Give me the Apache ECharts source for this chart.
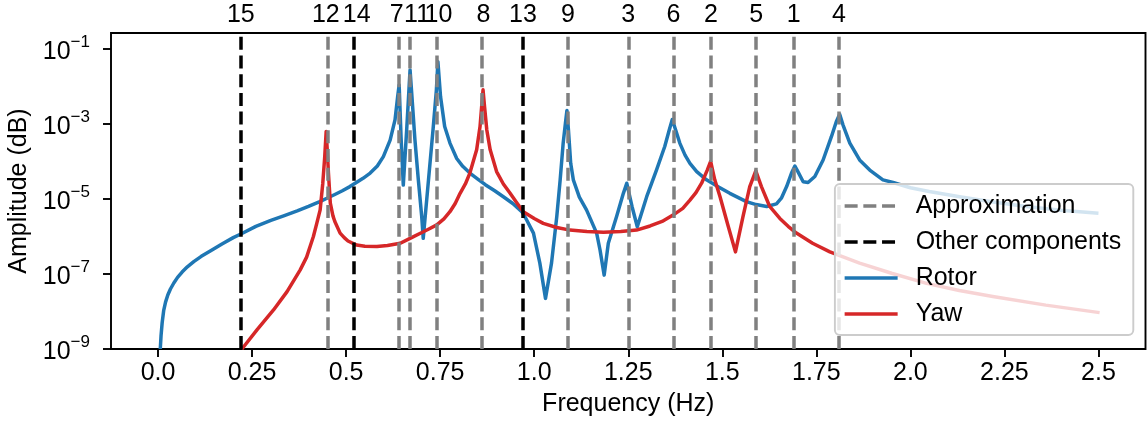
<!DOCTYPE html>
<html>
<head>
<meta charset="utf-8">
<script src="https://cdn.jsdelivr.net/npm/echarts@6/dist/echarts.min.js"></script>
<style>
html,body{margin:0;padding:0;background:#fff;}
#chart{width:1147px;height:425px;}
</style>
</head>
<body>
<div id="chart"></div>
<script>
// ---- data (frequency in Hz, amplitude as log10 exponent) ----
const rotorFreq = [0.006,0.008,0.011,0.015,0.020,0.026,0.033,0.042,0.052,0.064,0.078,0.095,0.115,0.14,0.17,0.20,0.223,0.26,0.30,0.334,0.37,0.40,0.43,0.449,0.47,0.49,0.51,0.524,0.545,0.564,0.583,0.599,0.617,0.630,0.637,0.641,0.646,0.652,0.661,0.667,0.670,0.675,0.683,0.692,0.701,0.705,0.719,0.731,0.740,0.744,0.751,0.762,0.776,0.794,0.81,0.829,0.85,0.87,0.895,0.918,0.943,0.967,0.980,0.998,1.015,1.030,1.046,1.060,1.069,1.077,1.083,1.087,1.091,1.097,1.104,1.12,1.139,1.166,1.175,1.186,1.197,1.219,1.237,1.246,1.26,1.274,1.299,1.325,1.347,1.359,1.367,1.376,1.387,1.401,1.414,1.432,1.458,1.49,1.52,1.564,1.59,1.618,1.644,1.657,1.671,1.684,1.693,1.701,1.715,1.728,1.746,1.768,1.790,1.803,1.812,1.821,1.839,1.865,1.892,1.927,1.954,2.0,2.05,2.131,2.22,2.308,2.4,2.5];
const rotorExp  = [-9.0,-8.65,-8.3,-7.98,-7.75,-7.56,-7.4,-7.24,-7.09,-6.95,-6.81,-6.67,-6.53,-6.38,-6.2,-6.03,-5.92,-5.73,-5.57,-5.45,-5.32,-5.2,-5.07,-4.98,-4.88,-4.78,-4.67,-4.58,-4.45,-4.31,-4.12,-3.87,-3.43,-2.89,-2.27,-1.96,-3.34,-4.63,-3.16,-2.09,-1.56,-2.27,-3.43,-4.49,-5.47,-6.05,-4.49,-3.16,-2.09,-1.34,-2.27,-3.07,-3.51,-3.92,-4.13,-4.31,-4.47,-4.62,-4.78,-4.94,-5.12,-5.34,-5.56,-5.91,-6.71,-7.65,-6.71,-5.47,-4.49,-3.51,-2.98,-2.64,-3.16,-4.05,-4.49,-4.95,-5.29,-5.91,-6.36,-7.03,-6.18,-5.47,-4.85,-4.58,-5.2,-5.74,-4.94,-4.23,-3.6,-3.16,-2.88,-3.16,-3.51,-3.83,-4.05,-4.27,-4.49,-4.68,-4.85,-5.07,-5.15,-5.2,-5.13,-4.98,-4.67,-4.31,-4.12,-4.27,-4.54,-4.56,-4.4,-3.96,-3.34,-2.94,-2.74,-3.03,-3.51,-3.96,-4.23,-4.49,-4.56,-4.7,-4.8,-4.94,-5.08,-5.2,-5.3,-5.38];

const yawFreq = [0.223,0.263,0.307,0.343,0.378,0.395,0.413,0.422,0.431,0.438,0.443,0.447,0.451,0.453,0.458,0.465,0.47,0.484,0.495,0.505,0.528,0.55,0.582,0.61,0.644,0.670,0.70,0.72,0.741,0.76,0.776,0.79,0.803,0.817,0.829,0.847,0.856,0.861,0.864,0.868,0.874,0.883,0.900,0.918,0.936,0.955,0.971,1.0,1.024,1.06,1.095,1.14,1.184,1.23,1.272,1.308,1.34,1.369,1.395,1.414,1.43,1.445,1.460,1.469,1.480,1.494,1.515,1.535,1.555,1.573,1.589,1.604,1.626,1.653,1.675,1.697,1.74,1.786,1.865,1.95,2.043,2.13,2.219,2.36,2.503];
const yawExp  = [-9.0,-8.49,-7.96,-7.47,-6.89,-6.55,-6.0,-5.65,-5.29,-4.58,-3.9,-3.2,-3.9,-4.31,-5.11,-5.45,-5.6,-5.91,-6.03,-6.12,-6.23,-6.26,-6.27,-6.24,-6.18,-6.05,-5.9,-5.8,-5.69,-5.53,-5.34,-5.12,-4.85,-4.6,-4.31,-3.69,-3.07,-2.45,-2.09,-2.54,-3.16,-3.69,-4.27,-4.6,-4.85,-5.12,-5.34,-5.52,-5.65,-5.76,-5.83,-5.87,-5.89,-5.87,-5.83,-5.72,-5.6,-5.43,-5.25,-5.03,-4.83,-4.58,-4.23,-4.0,-4.49,-4.94,-5.7,-6.41,-5.47,-4.67,-4.25,-4.67,-5.2,-5.52,-5.73,-5.91,-6.18,-6.41,-6.71,-6.98,-7.25,-7.44,-7.6,-7.83,-8.03];

const approxFreq   = [0.4465,0.6414,0.668,0.7434,0.8647,1.0863,1.2458,1.367,1.4699,1.5895,1.6932,1.8127];
const approxLabels = ['12','7','11','10','8','9','3','6','2','5','1','4'];
const otherFreq    = [0.2224,0.5217,0.9683];
const otherLabels  = ['15','14','13'];

const xTickValues = [0,0.25,0.5,0.75,1.0,1.25,1.5,1.75,2.0,2.25,2.5];
const xTickLabels = ['0.0','0.25','0.5','0.75','1.0','1.25','1.5','1.75','2.0','2.25','2.5'];
const yTickExps   = [-9,-7,-5,-3,-1];

// ---- styling / build ----
const FONT = "'Liberation Sans', Arial, Helvetica, sans-serif";
const FS = 25;
const DASH = [13, 5.7];
const labelNudge = { '12': -1.5, '14': 3, '7': -2, '11': 7, '10': 2, '8': 2 };   // small horizontal nudges of crowded top labels (px)

const toPairs = (xs, es) => xs.map((x, i) => [x, Math.pow(10, es[i])]);
const vLines = (freqs, labels) => freqs.map((f, i) => ({
  xAxis: f,
  label: { formatter: labels[i], offset: [labelNudge[labels[i]] || 0, 0] }
}));

const chart = echarts.init(document.getElementById('chart'), null, { renderer: 'canvas' });
chart.setOption({
  animation: false,
  backgroundColor: '#fff',
  textStyle: { fontFamily: FONT },
  grid: {
    left: 111, right: 1.5, top: 33, bottom: 76,
    show: true, borderColor: '#000', borderWidth: 1.9, backgroundColor: 'transparent',
    containLabel: false, outerBoundsMode: 'none'
  },
  xAxis: {
    type: 'value', min: -0.125, max: 2.625,
    name: 'Frequency (Hz)', nameLocation: 'middle', nameGap: 43,
    nameTextStyle: { fontSize: FS, color: '#000', fontFamily: FONT },
    axisLine: { show: false, onZero: false },
    splitLine: { show: false },
    axisTick: { show: true, length: 8, lineStyle: { color: '#000', width: 1.9 }, customValues: xTickValues },
    axisLabel: {
      show: true, customValues: xTickValues, margin: 12, fontSize: FS, color: '#000', fontFamily: FONT,
      formatter: v => { const i = xTickValues.findIndex(t => Math.abs(t - v) < 1e-9); return i >= 0 ? xTickLabels[i] : ''; }
    }
  },
  yAxis: {
    type: 'log', logBase: 10, min: 1e-9, max: Math.pow(10, -0.575),
    name: 'Amplitude (dB)', nameLocation: 'middle', nameGap: 73,
    nameTextStyle: { fontSize: FS, color: '#000', fontFamily: FONT },
    axisLine: { show: false, onZero: false },
    splitLine: { show: false },
    minorTick: { show: false },
    axisTick: { show: true, length: 8, lineStyle: { color: '#000', width: 1.9 }, customValues: yTickExps.map(e => Math.pow(10, e)) },
    axisLabel: {
      show: true, customValues: yTickExps.map(e => Math.pow(10, e)), margin: 21, color: '#000', fontFamily: FONT,
      formatter: v => { const e = Math.round(Math.log10(v)); return '{b|10}{s|' + (e < 0 ? '\u2212' : '') + Math.abs(e) + '}'; },
      rich: {
        b: { fontSize: FS, lineHeight: 31, verticalAlign: 'bottom', fontFamily: FONT, color: '#000' },
        s: { fontSize: 17, lineHeight: 31, verticalAlign: 'top', fontFamily: FONT, color: '#000' }
      }
    }
  },
  legend: {
    orient: 'vertical', right: 13.7, bottom: 90, z: 10,
    backgroundColor: 'rgba(255,255,255,0.8)', borderColor: '#cccccc', borderWidth: 1.9, borderRadius: 5,
    padding: [9, 12, 8, 8],
    itemWidth: 53, itemHeight: 14, itemGap: 10,
    lineStyle: { width: 3.5 },
    itemStyle: { opacity: 0, borderWidth: 0 },
    textStyle: { fontSize: FS, color: '#000', fontFamily: FONT, lineHeight: 26, padding: [0, 0, 0, 13] },
    data: ['Approximation', 'Other components', 'Rotor', 'Yaw']
  },
  series: [
    {
      name: 'Rotor', type: 'line', data: toPairs(rotorFreq, rotorExp), showSymbol: false, symbol: 'none',
      color: '#1f77b4', lineStyle: { color: '#1f77b4', width: 3.5, join: 'round' }, z: 2, clip: true
    },
    {
      name: 'Yaw', type: 'line', data: toPairs(yawFreq, yawExp), showSymbol: false, symbol: 'none',
      color: '#d62728', lineStyle: { color: '#d62728', width: 3.5, join: 'round' }, z: 2, clip: true
    },
    {
      name: 'Approximation', type: 'line', data: [], symbol: 'none', color: '#808080',
      lineStyle: { color: '#808080', width: 3.5, type: DASH },
      markLine: {
        silent: true, symbol: ['none', 'none'], z: 3, animation: false,
        lineStyle: { color: '#808080', width: 3.5, type: DASH },
        label: { show: true, position: 'end', distance: 5, fontSize: FS, color: '#000', fontFamily: FONT },
        emphasis: { disabled: true },
        data: vLines(approxFreq, approxLabels)
      }
    },
    {
      name: 'Other components', type: 'line', data: [], symbol: 'none', color: '#000000',
      lineStyle: { color: '#000000', width: 3.5, type: DASH },
      markLine: {
        silent: true, symbol: ['none', 'none'], z: 3, animation: false,
        lineStyle: { color: '#000000', width: 3.5, type: DASH },
        label: { show: true, position: 'end', distance: 5, fontSize: FS, color: '#000', fontFamily: FONT },
        emphasis: { disabled: true },
        data: vLines(otherFreq, otherLabels)
      }
    }
  ]
});
</script>
</body>
</html>
